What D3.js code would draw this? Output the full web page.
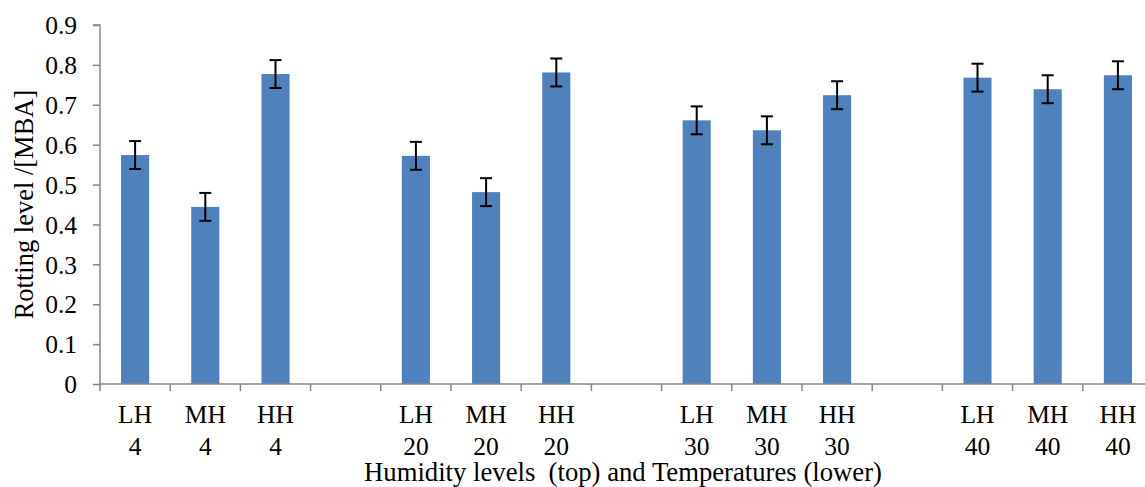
<!DOCTYPE html>
<html><head><meta charset="utf-8">
<script src="https://cdn.jsdelivr.net/npm/d3@7"></script>
<style>
html,body{margin:0;padding:0;background:#fff;}
svg{display:block;font-family:"Liberation Serif","Times New Roman",serif;}
</style></head>
<body>
<svg id="chart" width="1145" height="487"></svg>
<script>
const humidityLevels = ["LH", "MH", "HH"];
const temperatures = ["4", "20", "30", "40"];
const rottingValues = [0.574, 0.444, 0.777, 0.572, 0.481, 0.781, 0.661, 0.636, 0.724, 0.768, 0.739, 0.774];
const errorValues = [0.035, 0.035, 0.035, 0.035, 0.035, 0.035, 0.035, 0.035, 0.035, 0.035, 0.035, 0.035];
const yTicks = [0, 0.1, 0.2, 0.3, 0.4, 0.5, 0.6, 0.7, 0.8, 0.9];

(function () {
// Build slots: each temperature group of 3 bars followed by an empty gap slot
const slots = [];
const bars = [];
temperatures.forEach((t, gi) => {
  humidityLevels.forEach((h, hi) => {
    const key = h + "-" + t;
    slots.push(key);
    const i = gi * humidityLevels.length + hi;
    bars.push({key, hum: h, temp: t, value: rottingValues[i], err: errorValues[i]});
  });
  if (gi < temperatures.length - 1) slots.push("gap-" + t);
});

const svg = d3.select("#chart");
const mLeft = 100, mTop = 25, mBottom = 384, step = 70.2;
const x = d3.scaleBand().domain(slots).range([mLeft, mLeft + step * slots.length]).paddingInner(0.6).paddingOuter(0.3);
const xb = d3.scaleBand().domain(slots).range([mLeft, mLeft + step * slots.length]).padding(0);
const y = d3.scaleLinear().domain([0, 0.9]).range([mBottom, mTop]);

const axisColor = "#868686";

// Bars
svg.append("g").selectAll("rect").data(bars).join("rect")
  .attr("x", d => x(d.key))
  .attr("width", x.bandwidth())
  .attr("y", d => y(d.value))
  .attr("height", d => y(0) - y(d.value))
  .attr("fill", "#4F81BD");

// Y axis
const yAxis = d3.axisLeft(y).tickValues(yTicks).tickSize(7).tickPadding(16)
  .tickFormat(d => d === 0 ? "0" : d3.format(".1f")(d));
const gy = svg.append("g").attr("transform", `translate(${mLeft},0)`).call(yAxis);
gy.select(".domain").attr("stroke", axisColor).attr("stroke-width", 1.5).attr("d", `M-7,${mTop}H0V${mBottom}`);
gy.selectAll(".tick line").attr("stroke", axisColor).attr("stroke-width", 1.5);
gy.selectAll(".tick text").attr("fill", "#000").attr("font-size", 25.5).attr("font-family", "Liberation Serif").attr("dy", "0.34em");

// X axis line + boundary ticks
const gx = svg.append("g");
gx.append("line").attr("x1", mLeft).attr("x2", mLeft + step * slots.length).attr("y1", mBottom).attr("y2", mBottom)
  .attr("stroke", axisColor).attr("stroke-width", 1.5);
const boundaries = slots.map(s => xb(s)).concat([xb(slots[slots.length - 1]) + xb.bandwidth()]);
gx.selectAll("line.tk").data(boundaries).join("line").attr("class", "tk")
  .attr("x1", d => d).attr("x2", d => d).attr("y1", mBottom).attr("y2", mBottom + 7)
  .attr("stroke", axisColor).attr("stroke-width", 1.5);

// Category labels (two lines)
const lab = svg.append("g").attr("font-size", 25.5).attr("fill", "#000").attr("text-anchor", "middle");
lab.selectAll("text.h").data(bars).join("text").attr("class", "h")
  .attr("x", d => x(d.key) + x.bandwidth() / 2).attr("y", 423).text(d => d.hum);
lab.selectAll("text.t").data(bars).join("text").attr("class", "t")
  .attr("x", d => x(d.key) + x.bandwidth() / 2).attr("y", 455).text(d => d.temp);

// Error bars
const eg = svg.append("g").attr("stroke", "#000").attr("stroke-width", 2);
bars.forEach(d => {
  const cx = x(d.key) + x.bandwidth() / 2;
  const y1 = y(d.value + d.err), y2 = y(d.value - d.err);
  eg.append("line").attr("x1", cx).attr("x2", cx).attr("y1", y1).attr("y2", y2);
  eg.append("line").attr("x1", cx - 6).attr("x2", cx + 6).attr("y1", y1).attr("y2", y1);
  eg.append("line").attr("x1", cx - 6).attr("x2", cx + 6).attr("y1", y2).attr("y2", y2);
});

// Axis titles
svg.append("text").attr("x", 623).attr("y", 481).attr("text-anchor", "middle")
  .attr("font-size", 26.7).attr("fill", "#000")
  .attr("xml:space", "preserve").style("white-space", "pre")
  .text("Humidity levels  (top) and Temperatures (lower)");
svg.append("text").attr("transform", `translate(33,${(mTop + mBottom) / 2}) rotate(-90)`)
  .attr("text-anchor", "middle").attr("font-size", 26.5).attr("fill", "#000")
  .text("Rotting level /[MBA]");
})();
</script>
</body></html>
